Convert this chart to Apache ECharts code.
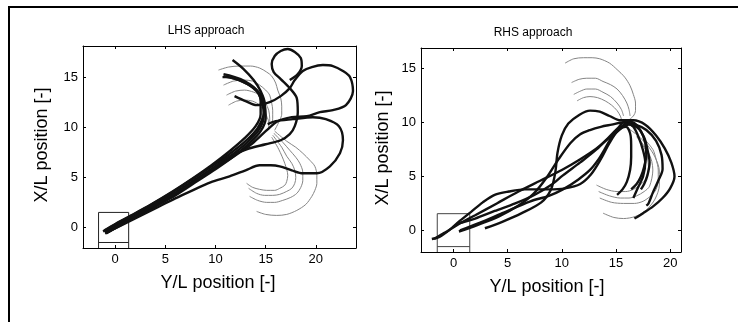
<!DOCTYPE html>
<html><head><meta charset="utf-8">
<script src="https://cdn.jsdelivr.net/npm/echarts@6/dist/echarts.min.js"></script>
<style>html,body{margin:0;padding:0;background:#fff}#c{width:738px;height:322px}</style>
</head><body><div id="c"></div>
<script>
// ---------- LHS approach : black trajectories [Y/L, X/L] ----------
const lhsPath1 = [[-1.2,-0.4],[0,0.3],[1.5,1.1],[3.5,2.2],[5.5,3.4],[7.5,4.7],[9.5,6.0],[11.5,7.4],[13.1,8.7],[14.2,9.9],[14.8,11.2],[14.9,12.4],[14.5,13.6],[13.8,14.7],[12.8,15.8],[11.7,16.7]];
const lhsPath2 = [[-1.0,-0.5],[0.2,0.2],[1.7,1.0],[3.7,2.1],[5.7,3.3],[7.7,4.6],[9.7,5.9],[11.6,7.2],[13.2,8.5],[14.3,9.7],[14.8,11.0],[14.7,12.3],[14.1,13.6],[12.6,14.6],[10.8,15.1]];
const lhsPath3 = [[-0.9,-0.6],[0.3,0.1],[1.8,0.9],[3.8,2.0],[5.8,3.2],[7.8,4.5],[9.8,5.8],[11.8,7.1],[13.4,8.4],[14.5,9.6],[15.0,10.9],[14.9,12.2],[14.3,13.5],[12.8,14.5],[11.0,15.0],[10.7,15.0]];
const lhsPath4 = [[-1.1,-0.3],[0.1,0.4],[1.6,1.2],[3.6,2.3],[5.6,3.5],[7.6,4.8],[9.6,6.2],[11.4,7.6],[12.9,8.9],[14.0,10.1],[14.5,11.3],[14.5,12.6],[14.0,13.8],[12.5,14.8],[10.8,15.3]];
const lhsPath5 = [[-0.8,-0.5],[0.5,0.2],[2,1.0],[4,2.1],[6,3.2],[8,4.5],[10,5.8],[12,7.2],[13.7,8.4],[15.0,9.6],[16.2,10.6],[17.6,11.0],[19.1,11.1],[20.4,11.5],[21.7,11.7],[23.0,12.2],[23.7,13.6],[23.4,15.0],[22.7,15.6],[21.7,16.1],[20.7,16.2],[19.6,16.0],[18.7,15.6],[17.9,14.7],[17.4,13.9],[16.5,13.1],[15.4,12.5],[14.1,12.2],[13.0,12.6],[11.9,13.1]];
const lhsPath6 = [[-0.9,-0.4],[0.4,0.3],[2,1.1],[4,2.3],[6,3.4],[8,4.6],[9.6,5.7],[11.1,6.9],[13.1,7.8],[15.0,8.3],[16.5,8.7],[17.4,9.3],[17.9,10.1],[18.2,11.5],[18.1,12.9],[17.4,13.9],[16.5,14.8],[15.8,15.5],[15.6,16.3],[15.9,17.1],[16.5,17.6],[17.2,17.8],[17.9,17.5],[18.5,16.9],[18.6,16.1],[18.2,15.3],[17.4,14.7]];
const lhsPath7 = [[-1.0,-0.6],[0.4,0.1],[2,0.9],[4,1.9],[6,2.9],[7.5,3.6],[9.5,4.5],[11.4,5.1],[13,5.7],[14.4,6.2],[15.5,6.2],[16.4,6.1],[17.6,5.7],[18.7,5.4],[20.1,5.4],[21.4,6.1],[22.4,7.4],[22.7,8.7],[22.3,10.1],[21.0,10.8],[19.7,11.0],[17.7,10.8],[16.0,10.6],[15.2,10.3]];
// ---------- LHS approach : grey reference arcs ----------
const lhsArc1 = [[10.3,15.7],[11.3,16.0],[12.4,16.1],[13.5,16.1],[14.4,15.9],[15.1,15.5],[15.6,15.1],[16.0,14.4],[16.2,13.7],[16.5,12.9],[16.6,12.1],[16.6,11.3],[16.4,10.7],[15.9,9.7]];
const lhsArc2 = [[10.8,14.2],[11.8,14.6],[12.8,14.7],[13.7,14.6],[14.4,14.2],[15.0,13.7],[15.4,13.2],[15.6,12.4],[15.7,11.7],[15.7,10.9],[15.6,10.2]];
const lhsArc3 = [[11.1,13.2],[12.0,13.6],[12.9,13.7],[13.8,13.5],[14.6,13.1],[15.0,12.4],[15.3,11.7],[15.4,10.9],[15.4,10.2]];
const lhsArc4 = [[11.3,12.2],[12.1,12.6],[12.9,12.7],[13.7,12.6],[14.4,12.2],[14.8,11.7],[15.1,11.1],[15.3,10.5],[15.3,9.9]];
const lhsArc5 = [[15.9,9.6],[17.1,8.6],[18.0,8.0],[18.7,7.4],[19.4,6.7],[19.9,6.1],[20.1,5.2],[20.1,4.4],[19.9,3.7],[19.6,3.1],[19.0,2.3],[18.1,1.7],[17.1,1.3],[16.1,1.2],[15.0,1.3],[14.1,1.6]];
const lhsArc6 = [[15.8,9.4],[16.7,8.5],[17.4,7.7],[18.0,7.0],[18.4,6.4],[18.7,5.5],[18.7,4.7],[18.5,4.0],[18.1,3.4],[17.5,3.0],[16.7,2.7],[15.9,2.5],[15.1,2.5],[14.2,2.7],[13.4,3.1]];
const lhsArc7 = [[15.7,9.2],[16.6,8.0],[17.1,7.1],[17.6,6.4],[17.9,5.7],[18.0,5.0],[17.9,4.4],[17.6,3.9],[17.1,3.6],[16.4,3.3],[15.7,3.2],[14.9,3.2],[14.1,3.4],[13.3,3.9]];
const lhsArc8 = [[15.6,9.0],[16.3,7.8],[16.9,6.4],[17.2,5.2],[17.1,4.6],[16.9,4.2],[16.4,3.9],[15.9,3.7],[15.1,3.7],[14.4,3.8],[13.7,4.0],[13.1,4.4]];
// berth outline
const lhsBerth = [[-1.65,-2.05],[-1.65,1.5],[1.35,1.5],[1.35,-2.05]];
const lhsBerthLine = [[-1.65,-1.5],[1.35,-1.5]];

// ---------- RHS approach : black trajectories ----------
const rhsPath1 = [[2.9,0.2],[4.5,0.8],[6.3,1.6],[8.1,2.6],[9.0,3.8],[9.4,5.4],[9.6,7.2],[10.0,8.8],[10.6,9.9],[11.6,10.7],[12.6,11.1],[13.5,11.0],[14.4,10.6],[15.4,10.2],[16.6,10.2],[17.7,9.8],[18.7,8.8],[19.5,7.6],[20.1,6.3],[20.4,5.0],[20.0,3.9],[19.3,3.0],[18.4,2.2],[17.5,1.6],[16.7,1.1]];
const rhsPath2 = [[0.5,-0.1],[2.2,0.5],[4.2,1.3],[6.0,2.3],[7.4,3.4],[8.6,4.9],[9.7,6.6],[10.8,8.1],[11.7,8.9],[12.6,9.3],[13.6,9.6],[14.6,9.8],[15.6,10.0],[16.8,9.8],[17.8,9.3],[18.7,8.3],[19.2,7.0],[19.3,5.7],[18.9,4.6],[18.4,3.5],[18.0,2.5],[17.8,2.3]];
const rhsPath3 = [[-2.0,-0.8],[-1.3,-0.6],[-0.3,0.1],[0.6,0.9],[1.6,1.7],[2.7,2.6],[3.8,3.3],[5.1,3.6],[6.6,3.8],[8.8,3.8],[10.3,3.9],[11.7,4.3],[12.7,5.2],[13.6,6.6],[14.4,8.1],[15.2,9.3],[16.0,9.9],[16.6,9.6],[17.1,8.6],[17.5,7.4],[17.7,6.3],[17.5,5.0],[17.0,3.9],[16.6,3.0]];
const rhsPath4 = [[-1.8,-0.8],[-0.8,-0.2],[0.5,0.6],[2.0,1.4],[4.0,2.5],[6.0,3.6],[8.0,4.6],[10.0,5.6],[11.7,6.6],[13.2,7.6],[14.4,8.6],[15.3,9.4],[15.9,9.6],[16.3,9.0],[16.4,7.9],[16.4,6.8],[16.3,5.6],[16.0,4.5],[15.6,3.8],[15.1,3.3]];
const rhsPath5 = [[0.6,0.0],[2.4,0.7],[4.5,1.6],[7.1,2.7],[8.8,3.2],[10.1,3.8],[11.5,4.7],[12.6,5.6],[13.4,6.6],[14.0,7.6],[14.6,8.6],[15.4,9.4],[16.2,9.8],[17.0,9.5],[17.6,8.6],[17.9,7.5],[18.1,6.3],[17.9,5.1],[17.6,4.3],[17.3,3.8]];
const rhsPath6 = [[0.3,0.6],[2.0,1.1],[3.8,1.8],[5.7,2.5],[7.5,3.3],[9.0,4.2],[10.1,5.1],[11.7,6.3],[13.2,7.5],[14.4,8.7],[15.2,9.5],[15.8,10.1],[16.6,10.0],[17.3,9.2],[17.7,8.1],[17.8,7.0],[17.6,5.9],[17.3,5.0],[16.9,4.3],[16.4,3.8]];
// ---------- RHS approach : grey reference arcs ----------
const rhsArc1 = [[10.3,15.5],[11.1,15.9],[12.0,16.0],[12.8,16.0],[13.5,15.9],[14.4,15.5],[15.1,14.9],[15.8,14.2],[16.3,13.4],[16.6,12.6],[16.8,11.8],[16.8,11.1],[16.6,10.6],[16.0,10.1]];
const rhsArc2 = [[10.9,13.7],[11.6,14.0],[12.3,14.1],[13.1,14.1],[13.8,13.8],[14.5,13.5],[15.1,13.1],[15.6,12.5],[16.0,11.8],[16.2,11.2],[16.3,10.6]];
const rhsArc3 = [[11.1,12.6],[11.7,12.9],[12.3,13.1],[13.1,13.1],[13.8,12.8],[14.5,12.4],[15.1,11.8],[15.5,11.2],[15.7,10.6]];
const rhsArc4 = [[11.4,12.0],[12.0,12.3],[12.6,12.4],[13.3,12.3],[14.0,12.0],[14.6,11.6],[15.1,11.1],[15.4,10.6],[15.5,10.3]];
const rhsArc5 = [[13.8,1.6],[14.8,1.2],[15.7,1.1],[16.8,1.3],[17.8,1.9],[18.6,2.9],[19.0,4.2],[19.0,5.5],[18.6,6.8],[17.9,7.9],[17.0,8.8],[16.2,9.4]];
const rhsArc6 = [[13.5,3.0],[14.6,2.6],[15.7,2.5],[16.7,2.5],[17.5,2.7],[18.2,3.2],[18.7,3.8],[18.9,4.7],[18.9,5.6],[18.7,6.6],[18.4,7.5],[17.5,8.6]];
const rhsArc7 = [[13.4,3.6],[14.4,3.2],[15.4,3.0],[16.2,3.0],[16.9,3.2],[17.6,3.6],[18.1,4.1],[18.4,5.6],[18.3,6.4],[18.0,7.2],[17.2,8.4]];
const rhsArc8 = [[13.2,4.2],[14.1,3.8],[15.1,3.6],[15.9,3.6],[16.6,3.8],[17.2,4.2],[17.7,4.7],[18.0,5.9],[17.9,6.7],[17.7,7.5],[16.9,8.7]];
const rhsBerth = [[-1.5,-2.0],[-1.5,1.55],[1.5,1.55],[1.5,-2.0]];
const rhsBerthLine = [[-1.5,-1.5],[1.5,-1.5]];

// ---------- tick labels / text ----------
const tickStep = 5;
const titles = ['LHS approach', 'RHS approach'];
const xName = 'Y/L position [-]';
const yName = 'X/L position [-]';

const lhsPaths = [lhsPath1, lhsPath2, lhsPath3, lhsPath4, lhsPath5, lhsPath6, lhsPath7];
const lhsArcs = [lhsArc1, lhsArc2, lhsArc3, lhsArc4, lhsArc5, lhsArc6, lhsArc7, lhsArc8];
const rhsPaths = [rhsPath1, rhsPath2, rhsPath3, rhsPath4, rhsPath5, rhsPath6];
const rhsArcs = [rhsArc1, rhsArc2, rhsArc3, rhsArc4, rhsArc5, rhsArc6, rhsArc7, rhsArc8];

const FONT = "'Liberation Sans', Arial, Helvetica, sans-serif";
const chart = echarts.init(document.getElementById('c'), null, {renderer: 'canvas'});

function axis(gi, min, max, position, labels) {
  return {
    type: 'value', gridIndex: gi, min: min, max: max, position: position,
    minInterval: tickStep, maxInterval: tickStep,
    axisLine: {show: true, onZero: false, lineStyle: {color: '#000', width: 1}},
    axisTick: {show: true, inside: true, length: 3, lineStyle: {color: '#000', width: 1}},
    axisLabel: {show: labels, color: '#000', fontFamily: FONT, fontSize: 13, margin: 5,
      showMinLabel: false, showMaxLabel: false,
      formatter: function (v) { return Math.abs(v / tickStep - Math.round(v / tickStep)) < 1e-6 ? String(Math.round(v)) : ''; }},
    splitLine: {show: false}
  };
}

const series = [];
function add(data, gi, color, width, z) {
  series.push({type: 'line', xAxisIndex: gi * 2, yAxisIndex: gi * 2, data: data,
    showSymbol: false, symbol: 'none', smooth: 0.3, silent: true, z: z,
    lineStyle: {color: color, width: width}});
}
function addStraight(data, gi, color, width) {
  series.push({type: 'line', xAxisIndex: gi * 2, yAxisIndex: gi * 2, data: data,
    showSymbol: false, symbol: 'none', smooth: false, silent: true, z: 3,
    lineStyle: {color: color, width: width}});
}
lhsArcs.forEach(a => add(a, 0, '#858585', 1, 2));
rhsArcs.forEach(a => add(a, 1, '#858585', 1, 2));
lhsPaths.forEach(p => add(p, 0, '#111', 2.4, 4));
rhsPaths.forEach(p => add(p, 1, '#111', 2.4, 4));
addStraight(lhsBerth, 0, '#222', 1);
addStraight(lhsBerthLine, 0, '#222', 1);
addStraight(rhsBerth, 1, '#444', 1);
addStraight(rhsBerthLine, 1, '#444', 1);

const textStyle = {fill: '#000', fontFamily: FONT};
chart.setOption({
  animation: false,
  backgroundColor: '#fff',
  grid: [
    {left: 83, top: 46, width: 273, height: 202},
    {left: 421, top: 48, width: 260, height: 204}
  ],
  xAxis: [axis(0, -3.2, 24, 'bottom', true), axis(0, -3.2, 24, 'top', false),
          axis(1, -3.0, 21, 'bottom', true), axis(1, -3.0, 21, 'top', false)],
  yAxis: [axis(0, -2.05, 18.1, 'left', true), axis(0, -2.05, 18.1, 'right', false),
          axis(1, -2.0, 16.9, 'left', true), axis(1, -2.0, 16.9, 'right', false)],
  series: series,
  graphic: [
    {type: 'line', shape: {x1: 8, y1: 7, x2: 738, y2: 7}, style: {stroke: '#000', lineWidth: 2}},
    {type: 'line', shape: {x1: 9, y1: 6, x2: 9, y2: 322}, style: {stroke: '#000', lineWidth: 2}},
    {type: 'text', x: 206, y: 31, style: Object.assign({text: titles[0], fontSize: 12, align: 'center', verticalAlign: 'middle'}, textStyle)},
    {type: 'text', x: 533, y: 33, style: Object.assign({text: titles[1], fontSize: 12, align: 'center', verticalAlign: 'middle'}, textStyle)},
    {type: 'text', x: 218, y: 283, style: Object.assign({text: xName, fontSize: 18, align: 'center', verticalAlign: 'middle'}, textStyle)},
    {type: 'text', x: 547, y: 287, style: Object.assign({text: xName, fontSize: 18, align: 'center', verticalAlign: 'middle'}, textStyle)},
    {type: 'text', x: 42, y: 145, rotation: Math.PI / 2, style: Object.assign({text: yName, fontSize: 18, align: 'center', verticalAlign: 'middle'}, textStyle)},
    {type: 'text', x: 383, y: 148, rotation: Math.PI / 2, style: Object.assign({text: yName, fontSize: 18, align: 'center', verticalAlign: 'middle'}, textStyle)}
  ]
});
</script></body></html>
